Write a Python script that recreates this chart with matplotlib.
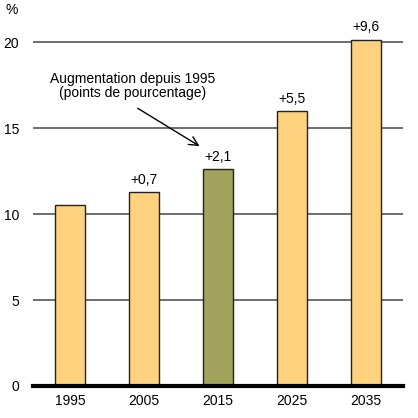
import matplotlib.pyplot as plt
import numpy as np

plt.rcParams['font.family'] = ['Liberation Sans', 'DejaVu Sans']

years = ['1995', '2005', '2015', '2025', '2035']
values = [10.55, 11.3, 12.6, 16.0, 20.15]
increase = ['', '+0,7', '+2,1', '+5,5', '+9,6']
colors = ['#FFD27F', '#FFD27F', '#A2A35C', '#FFD27F', '#FFD27F']

fig = plt.figure(figsize=(4.18, 4.18), dpi=100)
ax = fig.add_axes([0.079, 0.0766, 0.885, 0.905])

x = np.arange(len(years))
ax.set_axisbelow(True)
ax.yaxis.grid(True, color='#555555', linewidth=1.2)
bars = ax.bar(x, values, width=0.4, color=colors, edgecolor='#222222', linewidth=1, zorder=2)

for xi, v, lab in zip(x, values, increase):
    if lab:
        ax.text(xi, v + 0.3, lab, ha='center', va='bottom', fontsize=10)

ax.text(0.84, 17.45, 'Augmentation depuis 1995\n(points de pourcentage)',
        ha='center', va='center', fontsize=10, linespacing=1.0)
ax.annotate('', xy=(1.75, 13.95), xytext=(0.915, 16.15),
            arrowprops=dict(arrowstyle='->', color='black', lw=1,
                            shrinkA=0, shrinkB=0, mutation_scale=16))

ax.set_xlim(-0.5, 4.5)
ax.set_ylim(0, 22)
ax.set_yticks([0, 5, 10, 15, 20])
ax.set_xticks(x)
ax.set_xticklabels(years)
ax.tick_params(axis='both', length=0, labelsize=10)
ax.tick_params(axis='y', pad=10)
ax.tick_params(axis='x', pad=6)
for s in ['top', 'right', 'left']:
    ax.spines[s].set_visible(False)
ax.spines['bottom'].set_linewidth(3)
ax.spines['bottom'].set_zorder(3)

fig.text(0.012, 0.975, '%', fontsize=10, ha='left', va='center')

fig.savefig('out.png', dpi=100)
